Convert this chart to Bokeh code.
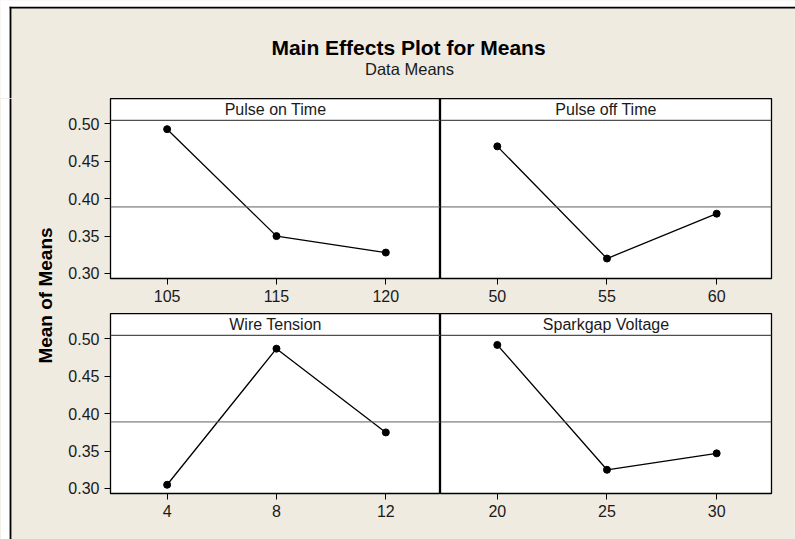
import math
from bokeh.plotting import figure
from bokeh.models import Range1d, FixedTicker, Span, Label, NumeralTickFormatter, BoxAnnotation
from bokeh.layouts import row, column
from bokeh.embed import file_html
from bokeh.resources import INLINE

# ---- data ----
chart_title = "Main Effects Plot for Means"
chart_subtitle = "Data Means"
y_label = "Mean of Means"

pulse_on_levels = ["105", "115", "120"]
pulse_on_means = [0.493, 0.350, 0.328]

pulse_off_levels = ["50", "55", "60"]
pulse_off_means = [0.470, 0.320, 0.380]

wire_levels = ["4", "8", "12"]
wire_means = [0.305, 0.487, 0.375]

spark_levels = ["20", "25", "30"]
spark_means = [0.492, 0.325, 0.347]

grand_mean = 0.389
y_ticks = [0.30, 0.35, 0.40, 0.45, 0.50]

# ---- styling ----
BEIGE = "#EFEBE1"
FONT = "Liberation Sans"
Y0, Y1 = 0.2933, 0.534
STRIP_Y = 0.5048
X0, X1 = 0.482, 3.5


def panel(name, levels, means, width, height, left_axis, bottom_border, right_border):
    p = figure(width=width, height=height, title=None,
               x_range=Range1d(X0, X1), y_range=Range1d(Y0, Y1),
               output_backend="svg", toolbar_location=None,
               min_border_left=52 if left_axis else 0,
               min_border_right=right_border, min_border_top=0,
               min_border_bottom=bottom_border,
               y_axis_location="left" if left_axis else None)
    p.background_fill_color = "white"
    p.border_fill_color = BEIGE
    p.outline_line_color = "black"
    p.outline_line_width = 1.3
    p.grid.visible = False

    xs = [i + 1 for i in range(len(levels))]
    p.xaxis.ticker = FixedTicker(ticks=xs)
    p.xaxis.major_label_overrides = {x: lab for x, lab in zip(xs, levels)}
    p.xaxis.axis_line_color = None
    p.xaxis.major_tick_out = 6
    p.xaxis.major_tick_in = 0
    p.xaxis.minor_tick_line_color = None
    p.xaxis.major_tick_line_color = "black"
    p.xaxis.major_label_standoff = 5
    p.xaxis.major_label_text_font = FONT
    p.xaxis.major_label_text_font_size = "16px"
    p.xaxis.major_label_text_color = "#1a1a1a"

    if left_axis:
        p.yaxis.ticker = FixedTicker(ticks=y_ticks)
        p.yaxis.formatter = NumeralTickFormatter(format="0.00")
        p.yaxis.axis_line_color = None
        p.yaxis.major_tick_out = 6
        p.yaxis.major_tick_in = 0
        p.yaxis.minor_tick_line_color = None
        p.yaxis.major_tick_line_color = "black"
        p.yaxis.major_label_standoff = 5
        p.yaxis.major_label_text_font = FONT
        p.yaxis.major_label_text_font_size = "16px"
        p.yaxis.major_label_text_color = "#1a1a1a"

    # strip separator and grand mean reference line
    p.add_layout(Span(location=STRIP_Y, dimension="width", line_color="#505050", line_width=1.2))
    p.add_layout(Span(location=grand_mean, dimension="width", line_color="#606060", line_width=1))
    p.add_layout(Label(x=(X0 + X1) / 2, y=(STRIP_Y + Y1) / 2, text=name,
                       text_align="center", text_baseline="middle",
                       text_font=FONT, text_font_size="16px", text_color="#1a1a1a"))

    p.line(xs, means, line_color="black", line_width=1.3)
    p.scatter(xs, means, size=7, color="black")
    return p


f1 = panel("Pulse on Time", pulse_on_levels, pulse_on_means, 382, 215, True, 35, 0)
f2 = panel("Pulse off Time", pulse_off_levels, pulse_off_means, 355, 215, False, 35, 24)
f3 = panel("Wire Tension", wire_levels, wire_means, 382, 226, True, 46, 0)
f4 = panel("Sparkgap Voltage", spark_levels, spark_means, 355, 226, False, 46, 24)

# title area
tf = figure(width=795, height=98, title=None, x_range=Range1d(0, 795), y_range=Range1d(0, 98),
            output_backend="svg", toolbar_location=None,
            min_border_left=0, min_border_right=0, min_border_top=0, min_border_bottom=0,
            x_axis_location=None, y_axis_location=None)
tf.background_fill_color = BEIGE
tf.border_fill_color = BEIGE
tf.outline_line_color = None
tf.grid.visible = False
tf.add_layout(BoxAnnotation(bottom=90.8, fill_color="white", fill_alpha=1, line_color=None))
tf.add_layout(BoxAnnotation(right=10, fill_color="white", fill_alpha=1, line_color=None))
tf.add_layout(BoxAnnotation(left=9.1, bottom=89.9, top=91.7, fill_color="black", fill_alpha=1, line_color=None))
tf.add_layout(BoxAnnotation(left=9.1, right=10.9, top=91.7, fill_color="black", fill_alpha=1, line_color=None))
tf.add_layout(Label(x=408, y=51.5, text=chart_title, text_align="center", text_baseline="alphabetic",
                    text_font=FONT, text_font_size="21px", text_font_style="bold", text_color="black"))
tf.add_layout(Label(x=409, y=29.5, text=chart_subtitle, text_align="center", text_baseline="alphabetic",
                    text_font=FONT, text_font_size="16.5px", text_color="#1a1a1a"))

# y label area
yf = figure(width=58, height=441, title=None, x_range=Range1d(0, 58), y_range=Range1d(0, 441),
            output_backend="svg", toolbar_location=None,
            min_border_left=0, min_border_right=0, min_border_top=0, min_border_bottom=0,
            x_axis_location=None, y_axis_location=None)
yf.background_fill_color = BEIGE
yf.border_fill_color = BEIGE
yf.outline_line_color = None
yf.grid.visible = False
yf.add_layout(BoxAnnotation(right=10, fill_color="white", fill_alpha=1, line_color=None))
yf.add_layout(BoxAnnotation(left=9.1, right=10.9, fill_color="black", fill_alpha=1, line_color=None))
yf.add_layout(Label(x=45, y=244, text=y_label, angle=math.pi / 2,
                    text_align="center", text_baseline="middle",
                    text_font=FONT, text_font_size="19px", text_font_style="bold", text_color="black"))

layout = column(tf, row(yf, column(row(f1, f2), row(f3, f4), styles={"background-color": BEIGE}),
                        styles={"background-color": BEIGE}))

open("out.html", "w").write(file_html(layout, INLINE))
